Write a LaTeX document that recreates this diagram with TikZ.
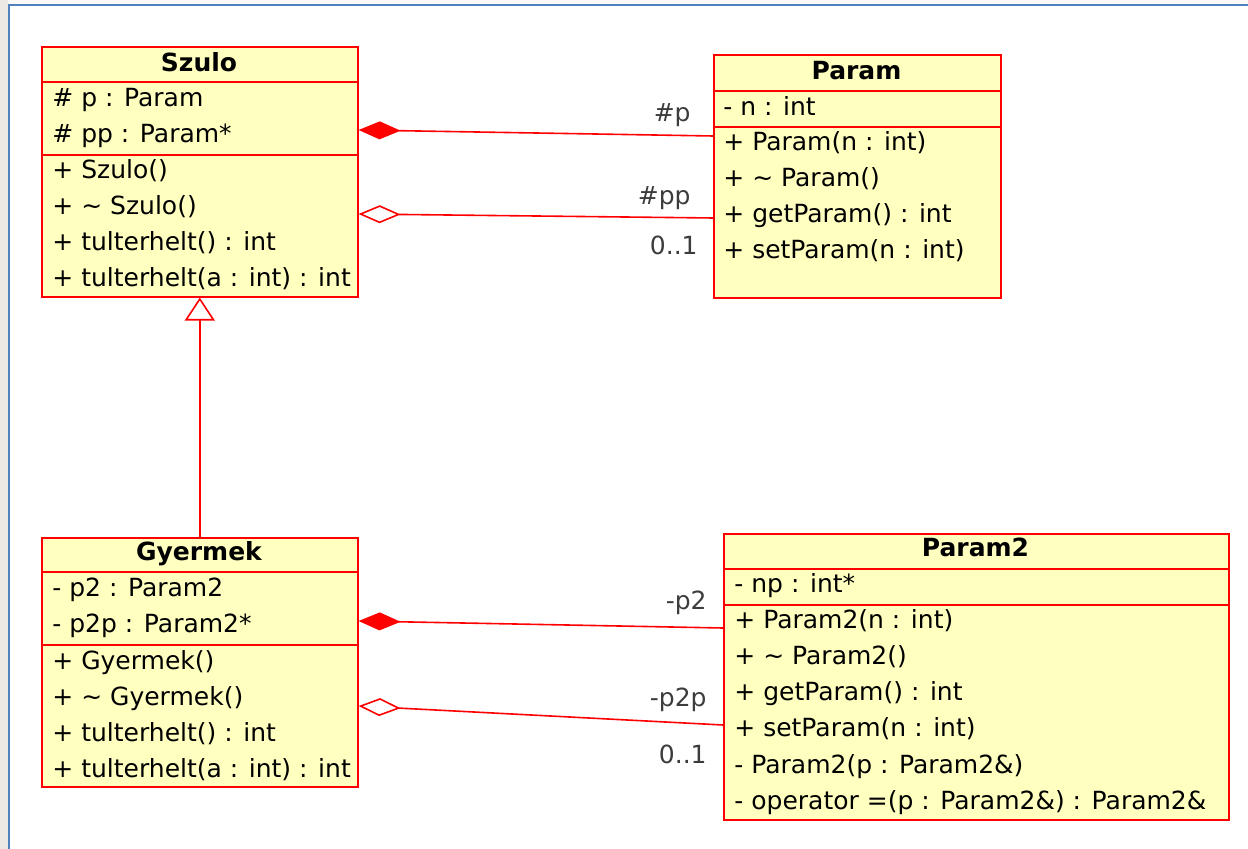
\documentclass[tikz,border=0pt]{standalone}
\usepackage{fontspec}
\setmainfont{DejaVu Sans}
\usetikzlibrary{arrows.meta}
\definecolor{umlred}{RGB}{255,0,0}
\definecolor{umlfill}{RGB}{255,255,192}
\definecolor{lblgray}{RGB}{60,60,60}
\definecolor{frameblue}{RGB}{79,129,189}
\definecolor{screengray}{RGB}{236,233,229}
\definecolor{screentop}{RGB}{250,249,246}

\begin{document}
\begin{tikzpicture}[
    x=0.5pt, y=-0.5pt,
    every node/.style={font=\fontsize{12.5}{15}\selectfont, inner sep=0pt},
    cls/.style={draw=umlred, fill=umlfill, line width=0.8pt, anchor=north west},
    sep/.style={draw=umlred, line width=0.8pt},
    title/.style={font=\fontsize{12.5}{15}\selectfont\bfseries, anchor=base},
    row/.style={anchor=base west},
    lbl/.style={text=lblgray, anchor=base east},
    assoc/.style={draw=umlred, line width=0.8pt},
    comp/.style={assoc, {Diamond[length=21pt, width=9pt, fill=umlred]}-},
    aggr/.style={assoc, {Diamond[open, length=21pt, width=9pt, fill=white]}-},
    gen/.style={assoc, -{Triangle[open, length=11.5pt, width=15pt, fill=white]}}
]
\useasboundingbox (0,0) rectangle (1248,849);

% screen frame
\fill[screengray] (0,0) rectangle (8,849);
\fill[screentop] (8,0) rectangle (1248,5);
\draw[frameblue, line width=1pt] (9,849) -- (9,5.5) -- (1248,5.5);

% Szulo
\node[cls, minimum width=158pt, minimum height=125pt] (szulo) at (41,46) {};
\draw[sep] ([yshift=-18pt]szulo.north west) -- ([yshift=-18pt]szulo.north east);
\draw[sep] ([yshift=-54.5pt]szulo.north west) -- ([yshift=-54.5pt]szulo.north east);
\node[title] (szulo-name) at (199,72) {Szulo};
\node[row] (szulo-a1) at (52,107) {\# p : Param};
\node[row] (szulo-a2) at (52,143) {\# pp : Param*};
\node[row] (szulo-m1) at (52,179) {+ Szulo()};
\node[row] (szulo-m2) at (52,215) {+ \textasciitilde{} Szulo()};
\node[row] (szulo-m3) at (52,251) {+ tulterhelt() : int};
\node[row] (szulo-m4) at (52,287) {+ tulterhelt(a : int) : int};

% Param
\node[cls, minimum width=143.5pt, minimum height=121.5pt] (param) at (713,54) {};
\draw[sep] ([yshift=-18.5pt]param.north west) -- ([yshift=-18.5pt]param.north east);
\draw[sep] ([yshift=-36.5pt]param.north west) -- ([yshift=-36.5pt]param.north east);
\node[title] (param-name) at (856.5,80) {Param};
\node[row] (param-a1) at (723,116) {- n : int};
\node[row] (param-m1) at (723,151) {+ Param(n : int)};
\node[row] (param-m2) at (723,187) {+ \textasciitilde{} Param()};
\node[row] (param-m3) at (723,223) {+ getParam() : int};
\node[row] (param-m4) at (723,259) {+ setParam(n : int)};

% Gyermek
\node[cls, minimum width=158pt, minimum height=124.5pt] (gyermek) at (41,537) {};
\draw[sep] ([yshift=-17.5pt]gyermek.north west) -- ([yshift=-17.5pt]gyermek.north east);
\draw[sep] ([yshift=-54pt]gyermek.north west) -- ([yshift=-54pt]gyermek.north east);
\node[title] (gyermek-name) at (199,561) {Gyermek};
\node[row] (gyermek-a1) at (52,597) {- p2 : Param2};
\node[row] (gyermek-a2) at (52,633) {- p2p : Param2*};
\node[row] (gyermek-m1) at (52,669) {+ Gyermek()};
\node[row] (gyermek-m2) at (52,705) {+ \textasciitilde{} Gyermek()};
\node[row] (gyermek-m3) at (52,741) {+ tulterhelt() : int};
\node[row] (gyermek-m4) at (52,777) {+ tulterhelt(a : int) : int};

% Param2
\node[cls, minimum width=252.5pt, minimum height=143pt] (param2) at (723,533) {};
\draw[sep] ([yshift=-18pt]param2.north west) -- ([yshift=-18pt]param2.north east);
\draw[sep] ([yshift=-36pt]param2.north west) -- ([yshift=-36pt]param2.north east);
\node[title] (param2-name) at (975.5,557) {Param2};
\node[row] (param2-a1) at (734,593) {- np : int*};
\node[row] (param2-m1) at (734,629) {+ Param2(n : int)};
\node[row] (param2-m2) at (734,665) {+ \textasciitilde{} Param2()};
\node[row] (param2-m3) at (734,701) {+ getParam() : int};
\node[row] (param2-m4) at (734,737) {+ setParam(n : int)};
\node[row] (param2-m5) at (734,773) {- Param2(p : Param2\&)};
\node[row] (param2-m6) at (734,809) {- operator =(p : Param2\&) : Param2\&};

% associations
\draw[comp] (szulo.east |- 0,130) -- (param.west |- 0,136);
\draw[aggr] (szulo.east |- 0,214) -- (param.west |- 0,218);
\draw[gen] (gyermek.north) -- (szulo.south);
\draw[comp] (gyermek.east |- 0,621) -- (param2.west |- 0,628);
\draw[aggr] (gyermek.east |- 0,706) -- (param2.west |- 0,725);

% role names
\node[lbl] (role-p) at (691,122) {\#p};
\node[lbl] (role-pp) at (691,205) {\#pp};
\node[lbl] (mult-pp) at (698,255) {0..1};
\node[lbl] (role-p2) at (707,610) {-p2};
\node[lbl] (role-p2p) at (707,707) {-p2p};
\node[lbl] (mult-p2p) at (707,763) {0..1};
\end{tikzpicture}
\end{document}
